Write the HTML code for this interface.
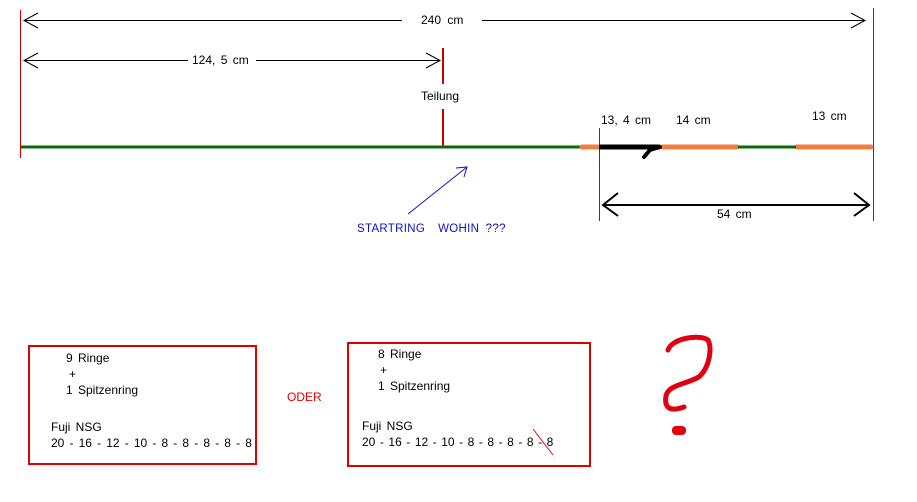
<!DOCTYPE html>
<html><head><style>
body{margin:0;background:#fff;width:917px;height:502px;overflow:hidden;position:relative;font-family:"Liberation Sans",sans-serif;font-size:12px;color:#000}
.t{position:absolute;white-space:nowrap;line-height:14px}
</style></head><body>
<svg width="917" height="502" style="position:absolute;left:0;top:0">
<g stroke="#c00" stroke-width="1">
<line x1="20.5" y1="10" x2="20.5" y2="158"/>
<line x1="873.5" y1="8" x2="873.5" y2="221"/>
<line x1="599.5" y1="128" x2="599.5" y2="221"/>
</g>
<g stroke="#c00" stroke-width="2">
<line x1="443" y1="48" x2="443" y2="84"/>
<line x1="443" y1="109" x2="443" y2="148"/>
</g>
<g stroke="#000" stroke-width="1" fill="none">
<line x1="24" y1="20.5" x2="402" y2="20.5"/>
<line x1="482" y1="20.5" x2="865" y2="20.5"/>
<polyline points="38,13 24,20.5 38,28"/>
<polyline points="851,13 865,20.5 851,28"/>
<line x1="24" y1="60.5" x2="188" y2="60.5"/>
<line x1="256" y1="60.5" x2="440" y2="60.5"/>
<polyline points="38,53 24,60.5 38,68"/>
<polyline points="426,53 440,60.5 426,68"/>
</g>
<g stroke="#000" stroke-width="2" fill="none">
<line x1="603" y1="205" x2="869" y2="205"/>
<polyline points="618,193 603,205 618,216"/>
<polyline points="854,193 869,205 854,216"/>
</g>
<line x1="21" y1="147" x2="582" y2="147" stroke="#0a6a0a" stroke-width="3"/>
<g stroke="#f08040" stroke-width="5" stroke-linecap="round">
<line x1="582" y1="147" x2="598" y2="147"/>
<line x1="662" y1="147" x2="737" y2="147"/>
<line x1="797" y1="147" x2="871" y2="147"/>
</g>
<line x1="738" y1="147" x2="796" y2="147" stroke="#0a6a0a" stroke-width="3"/>
<line x1="599" y1="147" x2="660" y2="147" stroke="#000" stroke-width="5"/>
<polyline points="660,147 650,150 644,157" stroke="#000" stroke-width="4" fill="none" stroke-linecap="round"/>
<g stroke="#1010c0" stroke-width="1" fill="none">
<line x1="408" y1="214" x2="467" y2="167"/>
<polyline points="456,168 467,167 464,177"/>
</g>
<g stroke="#d00" stroke-width="2" fill="none">
<rect x="29" y="346" width="227" height="118"/>
<rect x="348" y="343" width="242" height="123"/>
</g>
<line x1="533" y1="429" x2="553" y2="455" stroke="#d00" stroke-width="1"/>
<path d="M668,350 C672,338 700,334 708,340 C712,348 710,366 700,376 C690,384 668,384 666,396 C664,408 670,412 684,407" stroke="#e00010" stroke-width="5" fill="none" stroke-linecap="round" stroke-linejoin="round"/>
<rect x="672" y="426" width="14" height="9" rx="4" fill="#e00010"/>
</svg>
<div class="t" style="left:421px;top:13px;word-spacing:3px">240 cm</div>
<div class="t" style="left:192px;top:53px;word-spacing:2px">124, 5 cm</div>
<div class="t" style="left:421px;top:89px">Teilung</div>
<div class="t" style="left:601px;top:113px;word-spacing:2px">13, 4 cm</div>
<div class="t" style="left:676px;top:113px;word-spacing:2px">14 cm</div>
<div class="t" style="left:812px;top:109px;word-spacing:2px">13 cm</div>
<div class="t" style="left:717px;top:207px;word-spacing:2px">54 cm</div>
<div class="t" style="left:357px;top:222px;color:#1010c0;font-size:11.5px;word-spacing:3px;letter-spacing:0.3px">STARTRING&nbsp; WOHIN ???</div>
<div class="t" style="left:66px;top:351px;word-spacing:2px">9 Ringe</div>
<div class="t" style="left:69px;top:367px">+</div>
<div class="t" style="left:66px;top:383px;word-spacing:2px">1 Spitzenring</div>
<div class="t" style="left:51px;top:420px;word-spacing:2px">Fuji NSG</div>
<div class="t" style="left:51px;top:436px;word-spacing:1.8px">20 - 16 - 12 - 10 - 8 - 8 - 8 - 8 - 8</div>
<div class="t" style="left:287px;top:390px;color:#d00">ODER</div>
<div class="t" style="left:378px;top:347px;word-spacing:2px">8 Ringe</div>
<div class="t" style="left:380px;top:363px">+</div>
<div class="t" style="left:378px;top:379px;word-spacing:2px">1 Spitzenring</div>
<div class="t" style="left:362px;top:419px;word-spacing:2px">Fuji NSG</div>
<div class="t" style="left:362px;top:435px;word-spacing:1.2px">20 - 16 - 12 - 10 - 8 - 8 - 8 - 8 - 8</div>
</body></html>
